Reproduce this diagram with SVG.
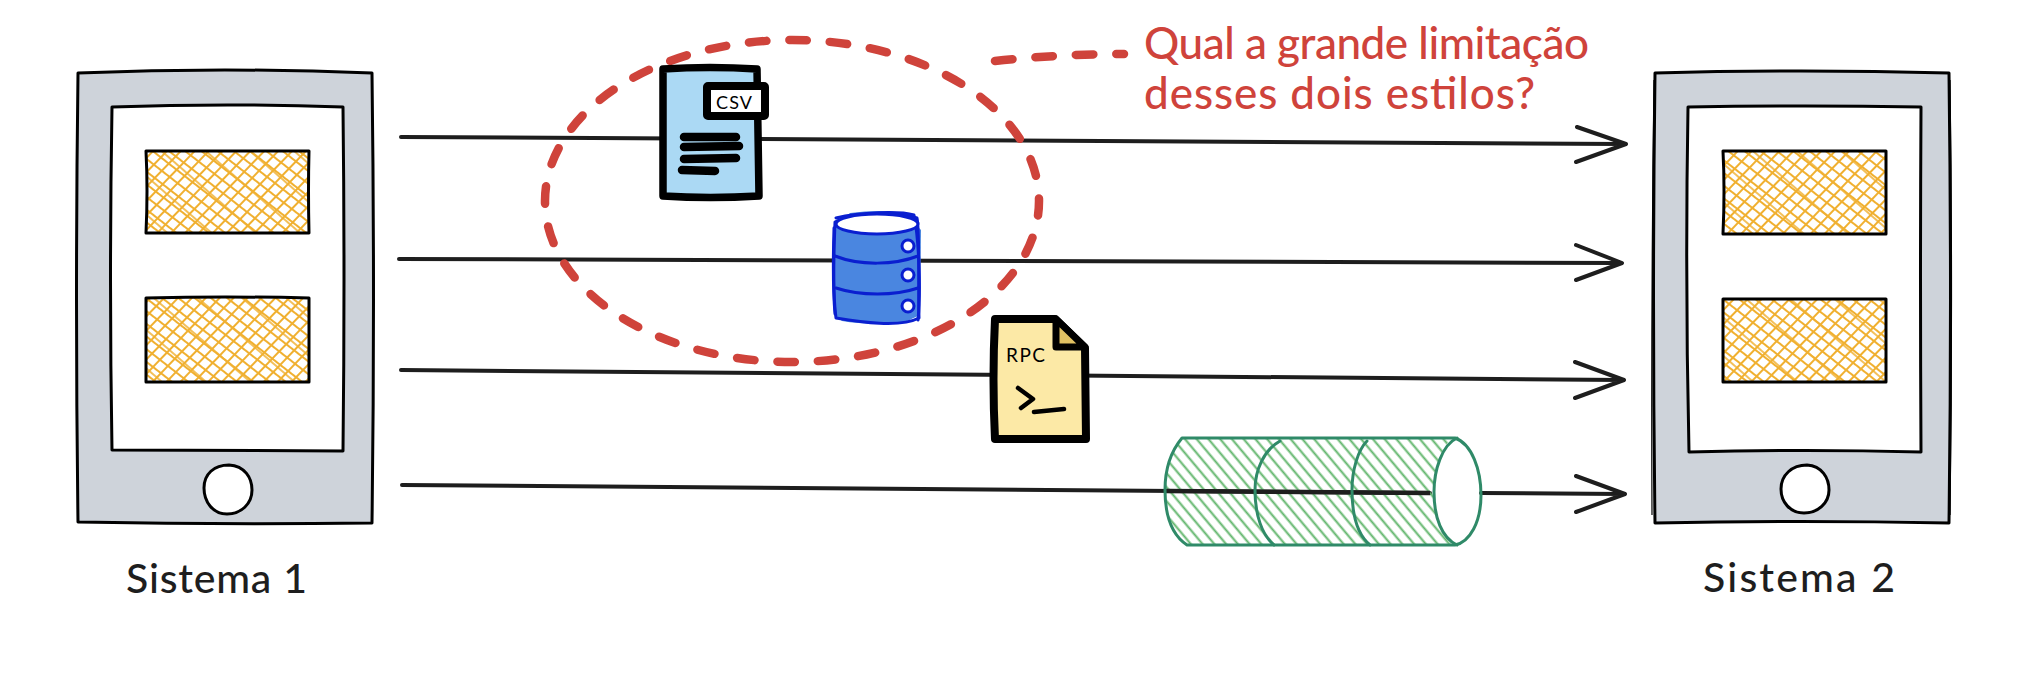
<svg xmlns="http://www.w3.org/2000/svg" width="2034" height="680" viewBox="0 0 2034 680">
<style>
.line{fill:none;stroke:#1e1e1e;stroke-width:4;stroke-linecap:round;stroke-linejoin:round}
.dash{fill:none;stroke:#cf433b;stroke-width:8.5;stroke-linecap:round;stroke-dasharray:17.5 23}
.body{fill:#ced3da;stroke:#000;stroke-width:3;stroke-linejoin:round}
.screen{fill:#fff;stroke:#000;stroke-width:3;stroke-linejoin:round}
.thin{fill:none;stroke:#000;stroke-width:1.2}
.box{fill:none;stroke:#000;stroke-width:3;stroke-linejoin:round}
.label{font-family:"Lato","Noto Sans",sans-serif;font-size:41px;font-weight:500;fill:#1e1e1e}
.note{font-family:"Lato","Noto Sans",sans-serif;font-size:44px;font-weight:500;fill:#cf433b}
.icon{fill:none;stroke:#000;stroke-linecap:round;stroke-linejoin:round}
.small{font-family:"Lato","Noto Sans",sans-serif;fill:#000}
.db{stroke:#0a1fd0;stroke-width:3;stroke-linejoin:round;stroke-linecap:round}
.cyl{fill:none;stroke:#2f8a68;stroke-width:3;stroke-linecap:round;stroke-linejoin:round}
</style>
<defs>
<pattern id="hA" width="10" height="10" patternUnits="userSpaceOnUse" patternTransform="rotate(38)"><path d="M0 5H10" stroke="#f0b030" stroke-width="2"/></pattern>
<pattern id="hB" width="10" height="10" patternUnits="userSpaceOnUse" patternTransform="rotate(-46)"><path d="M0 5H10" stroke="#f0b030" stroke-width="2"/></pattern>
<pattern id="hD" width="29" height="29" patternUnits="userSpaceOnUse" patternTransform="rotate(41)"><path d="M0 8H29" stroke="#f0b030" stroke-width="1.6"/></pattern>
<pattern id="hC" width="9" height="9" patternUnits="userSpaceOnUse" patternTransform="rotate(50)"><path d="M0 4.5H9" stroke="#5fb56a" stroke-width="2"/></pattern>
<clipPath id="cylClip"><path d="M1182 438H1457V545H1187Q1165 525 1165 490Q1165 460 1182 438Z"/></clipPath>
</defs>

<g id="device-1">
<path class="body" d="M78 73Q225 67 372 73Q375 300 372 523Q225 525 78 522Q75 300 78 73Z"/>
<path class="screen" d="M112 107Q228 103 343 107Q345 280 343 451Q228 450 112 450Q109 280 112 107Z"/>
<rect x="146" y="151" width="163" height="82" fill="url(#hA)"/><rect x="146" y="151" width="163" height="82" fill="url(#hB)"/><rect x="146" y="151" width="163" height="82" fill="url(#hD)"/>
<path class="box" d="M146 151H309Q308 190 309 233H146Q148 190 146 151Z"/>
<rect x="146" y="298" width="163" height="84" fill="url(#hA)"/><rect x="146" y="298" width="163" height="84" fill="url(#hB)"/><rect x="146" y="298" width="163" height="84" fill="url(#hD)"/>
<path class="box" d="M146 298Q225 296 309 298V382H146Z"/>
<path class="screen" d="M229 465C245 466 252 478 252 490C252 504 241 514 227 514C213 514 204 502 204 488C204 474 214 465 229 465Z"/>
<text class="label" x="126" y="593" textLength="181" lengthAdjust="spacing">Sistema 1</text>
</g>

<g id="device-2">
<path class="body" d="M1655 73Q1800 69 1949 73Q1952 300 1949 523Q1800 520 1655 523Q1652 300 1655 73Z"/>
<path class="thin" d="M1654 80Q1651 300 1652 515M1950 80Q1953 300 1950 515"/>
<path class="screen" d="M1688 107Q1805 105 1921 107Q1920 280 1921 452Q1805 449 1689 452Q1685 280 1688 107Z"/>
<rect x="1723" y="151" width="163" height="83" fill="url(#hA)"/><rect x="1723" y="151" width="163" height="83" fill="url(#hB)"/><rect x="1723" y="151" width="163" height="83" fill="url(#hD)"/>
<path class="box" d="M1723 151H1886V234H1723Q1725 190 1723 151Z"/>
<rect x="1723" y="299" width="163" height="83" fill="url(#hA)"/><rect x="1723" y="299" width="163" height="83" fill="url(#hB)"/><rect x="1723" y="299" width="163" height="83" fill="url(#hD)"/>
<path class="box" d="M1723 299H1886V382H1723Z"/>
<path class="screen" d="M1807 465C1822 466 1829 478 1829 490C1829 503 1818 513 1804 513C1790 513 1781 502 1781 489C1781 475 1792 465 1807 465Z"/>
<text class="label" x="1703" y="592" textLength="192" lengthAdjust="spacing">Sistema 2</text>
</g>

<g id="connectors">
<path class="line" d="M401 137L1624 144M1577 127L1626 144L1576 162"/>
<path class="line" d="M399 259L1620 263M1576 245L1622 263L1576 280"/>
<path class="line" d="M401 370L1622 380M1575 362L1624 380L1575 398"/>
<path class="line" d="M402 485L1430 493M1481 493L1623 494M1576 476L1625 494L1576 512"/>
<path class="dash" d="M995 61Q1060 54 1124 54"/>
</g>

<g id="highlight">
<ellipse class="dash" cx="792" cy="201" rx="247" ry="161" stroke-dashoffset="3"/>
</g>

<g id="csv-doc">
<path d="M663 69Q710 66 757 69L759 196Q710 199 663 196Z" fill="#abd9f4" stroke="#000" stroke-width="7.5" stroke-linejoin="round"/>
<rect x="707" y="86" width="58" height="30" rx="1" fill="#fff" stroke="#000" stroke-width="8" stroke-linejoin="round"/>
<text class="small" x="716" y="109" font-size="18" textLength="36" lengthAdjust="spacing">CSV</text>
<path class="icon" stroke-width="8.5" d="M684 137L736 137M684 147L739 146M684 159L736 158M682 170L715 171"/>
</g>

<g id="database">
<path d="M850 213Q880 209 905 213L921 230L920 315L905 322Q870 326 842 321L834 314L834 228Z" fill="#4a86e0"/>
<path class="db" fill="none" d="M835 222C850 214 900 212 917 218C920 232 918 290 919 318C900 328 860 322 836 318C832 290 834 250 835 222Z"/>
<path class="db" fill="none" stroke-width="2" d="M836 218C860 212 900 211 914 215C919 240 921 290 918 320M834 228C833 260 833 290 835 314"/>
<ellipse class="db" cx="877" cy="224" rx="41" ry="10" fill="#fff"/>
<path class="db" fill="none" d="M835 256C860 266 895 265 918 256M836 288C860 296 895 296 918 288"/>
<circle class="db" cx="908" cy="246" r="6" fill="#fff"/><circle class="db" cx="908" cy="275" r="6" fill="#fff"/><circle class="db" cx="908" cy="306" r="6" fill="#fff"/>
</g>

<g id="rpc-doc">
<path d="M995 319H1055L1085 348L1086 439H995Q992 380 995 319Z" fill="#fce9a6" stroke="#000" stroke-width="8" stroke-linejoin="round"/>
<path d="M1056 319V347H1085Z" fill="#e0c163" stroke="#000" stroke-width="7" stroke-linejoin="round"/>
<text class="small" x="1006" y="362" font-size="19" textLength="39" lengthAdjust="spacing">RPC</text>
<path class="icon" stroke-width="4.5" d="M1018 388L1033 399L1021 408M1034 412L1064 409"/>
</g>

<g id="queue">
<rect x="1165" y="438" width="292" height="107" fill="url(#hC)" clip-path="url(#cylClip)"/>
<path d="M1165 491L1430 493" stroke="#1e1e1e" stroke-width="4.5"/>
<ellipse cx="1457" cy="491" rx="22" ry="53" fill="#fff"/>
<path class="cyl" d="M1182 438L1455 438C1472 444 1481 470 1481 495C1481 522 1470 542 1455 545L1187 545C1172 535 1165 515 1165 490C1165 468 1172 450 1182 438Z"/>
<path class="cyl" d="M1457 438C1442 445 1434 470 1434 492C1434 518 1442 538 1457 545"/>
<path class="cyl" d="M1280 441C1264 450 1255 470 1255 490C1255 515 1262 535 1274 545"/>
<path class="cyl" d="M1367 441C1358 450 1352 470 1352 490C1352 515 1358 535 1370 545"/>
</g>

<g id="note">
<text class="note" x="1144" y="59" textLength="445" lengthAdjust="spacing">Qual a grande limitação</text>
<text class="note" x="1144" y="109" textLength="391" lengthAdjust="spacing">desses dois estilos?</text>
</g>
</svg>
